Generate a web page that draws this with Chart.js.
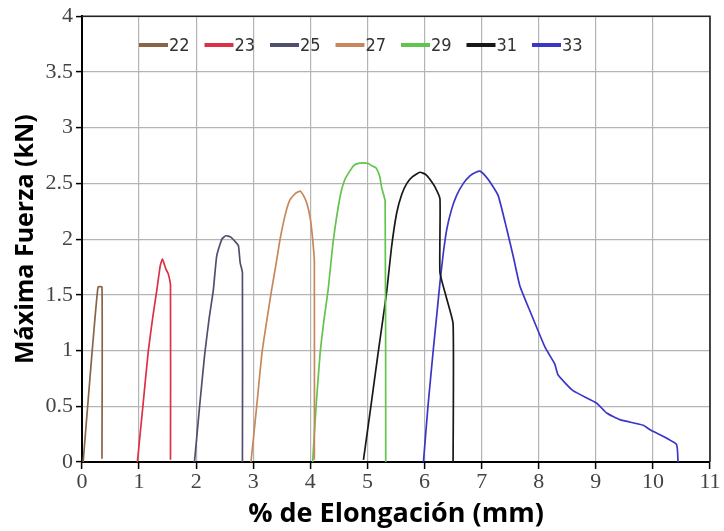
<!DOCTYPE html>
<html>
<head>
<meta charset="utf-8">
<script src="https://cdn.jsdelivr.net/npm/chart.js@4.4.1/dist/chart.umd.min.js"></script>
<style>
  html, body { margin: 0; padding: 0; background: #fff; }
  #wrap { width: 724px; height: 531px; }
</style>
</head>
<body>
<div id="wrap"><canvas id="chart" width="724" height="531"></canvas></div>
<script>
// series labels and colours
const labels = ['22', '23', '25', '27', '29', '31', '33'];
const colors = ['#8a6448', '#dc3048', '#50506e', '#c8875a', '#62c44c', '#181818', '#3c36c8'];

// % elongation / force (kN)
const x22 = [0.02, 0.15, 0.28, 0.35, 0.35];
const y22 = [0, 0.82, 1.57, 1.57, 0.03];

const x23 = [0.97, 1.07, 1.16, 1.24, 1.31, 1.37, 1.41, 1.47, 1.51, 1.55, 1.55];
const y23 = [0, 0.52, 0.99, 1.30, 1.54, 1.76, 1.82, 1.73, 1.69, 1.58, 0.02];

const x25 = [1.97, 2.06, 2.15, 2.23, 2.30, 2.36, 2.45, 2.52, 2.60, 2.68, 2.74, 2.77, 2.81, 2.81];
const y25 = [0, 0.50, 0.97, 1.30, 1.54, 1.85, 2.00, 2.03, 2.02, 1.98, 1.94, 1.79, 1.70, 0];

const x27 = [2.96, 3.06, 3.15, 3.24, 3.32, 3.40, 3.47, 3.56, 3.64, 3.74, 3.82, 3.88, 3.94, 4.00, 4.04, 4.07, 4.07];
const y27 = [0, 0.50, 0.97, 1.28, 1.54, 1.78, 2.00, 2.22, 2.35, 2.41, 2.43, 2.39, 2.32, 2.18, 2.00, 1.80, 0.02];

const x29 = [4.04, 4.10, 4.17, 4.24, 4.31, 4.40, 4.52, 4.60, 4.69, 4.76, 4.84, 5.01, 5.07, 5.15, 5.19, 5.22, 5.25, 5.31, 5.32];
const y29 = [0, 0.50, 0.97, 1.28, 1.54, 1.98, 2.38, 2.53, 2.61, 2.66, 2.68, 2.68, 2.66, 2.64, 2.60, 2.55, 2.46, 2.34, 0];

const x31 = [4.93, 5.06, 5.19, 5.27, 5.34, 5.42, 5.51, 5.60, 5.69, 5.79, 5.92, 6.02, 6.09, 6.18, 6.27, 6.27, 6.38, 6.50, 6.50];
const y31 = [0.02, 0.50, 0.99, 1.28, 1.54, 1.92, 2.23, 2.40, 2.50, 2.56, 2.60, 2.58, 2.54, 2.47, 2.36, 1.70, 1.48, 1.24, 0];

const x33 = [5.98, 6.06, 6.15, 6.22, 6.27, 6.33, 6.39, 6.47, 6.56, 6.68, 6.80, 6.90, 6.97, 7.06, 7.15, 7.29, 7.44, 7.56, 7.67, 7.85,
             8.11, 8.28, 8.34, 8.60, 9.01, 9.19, 9.42, 9.83, 9.95, 10.41, 10.44];
const y33 = [0, 0.50, 0.99, 1.35, 1.61, 1.88, 2.09, 2.26, 2.39, 2.50, 2.57, 2.60, 2.61, 2.57, 2.51, 2.39, 2.09, 1.83, 1.58, 1.35,
             1.03, 0.88, 0.78, 0.64, 0.53, 0.44, 0.38, 0.33, 0.29, 0.16, 0];

const seriesX = [x22, x23, x25, x27, x29, x31, x33];
const seriesY = [y22, y23, y25, y27, y29, y31, y33];

const serif = "'Liberation Serif', 'DejaVu Serif', serif";
const sans = "'Open Sans', 'Noto Sans', sans-serif";

const datasets = labels.map((lab, i) => ({
  label: lab,
  data: seriesX[i].map((x, j) => ({ x: x, y: seriesY[i][j] })),
  borderColor: colors[i],
  borderWidth: 1.7,
  pointRadius: 0,
  tension: 0.15,
  fill: false
}));

// legend sitting inside the plot, plus the frame round the plot
const insideLegend = {
  id: 'insideLegend',
  afterDatasetsDraw(chart) {
    const ctx = chart.ctx;
    const a = chart.chartArea;
    ctx.save();
    ctx.strokeStyle = '#222';
    ctx.lineWidth = 1.6;
    ctx.beginPath();
    ctx.moveTo(a.left, a.top);
    ctx.lineTo(a.right, a.top);
    ctx.lineTo(a.right, a.bottom);
    ctx.stroke();

    ctx.font = "18px 'Liberation Sans Narrow', 'DejaVu Sans Condensed', sans-serif";
    ctx.textBaseline = 'middle';
    const y = 45;
    chart.data.datasets.forEach((ds, i) => {
      const x = 139 + i * 65.5;
      ctx.strokeStyle = ds.borderColor;
      ctx.lineWidth = 4;
      ctx.beginPath();
      ctx.moveTo(x, y);
      ctx.lineTo(x + 29, y);
      ctx.stroke();
      ctx.fillStyle = '#333';
      ctx.fillText(ds.label, x + 30, y + 1);
    });
    ctx.restore();
  }
};

new Chart(document.getElementById('chart').getContext('2d'), {
  type: 'line',
  data: { datasets },
  options: {
    responsive: false,
    animation: false,
    layout: { padding: { top: 15, right: 14, left: 0, bottom: 0 } },
    plugins: {
      legend: { display: false },
      tooltip: { enabled: false }
    },
    scales: {
      x: {
        type: 'linear',
        min: 0,
        max: 11,
        afterFit: s => { s.height = 69; },
        ticks: { stepSize: 1, color: '#444', font: { family: serif, size: 22 }, padding: 0, maxRotation: 0 },
        grid: { color: '#b4b4b4', lineWidth: 1.2, tickColor: '#000', tickLength: 7, tickWidth: 1.5 },
        border: { color: '#000', width: 2 },
        title: { display: true, text: '% de Elongación (mm)', color: '#000', font: { family: sans, size: 27, weight: 'bold' }, padding: { top: 0, bottom: 0 } }
      },
      y: {
        min: 0,
        max: 4,
        afterFit: s => { s.width = 82; },
        ticks: { stepSize: 0.5, color: '#444', font: { family: serif, size: 22 }, padding: 3, callback: v => String(v) },
        grid: { color: '#b4b4b4', lineWidth: 1.2, tickColor: '#000', tickLength: 6, tickWidth: 1.5 },
        border: { color: '#000', width: 2 },
        title: { display: true, text: 'Máxima Fuerza (kN)', color: '#000', font: { family: sans, size: 25, weight: 'bold' }, padding: { top: 11, bottom: 0 } }
      }
    }
  },
  plugins: [insideLegend]
});
</script>
</body>
</html>
